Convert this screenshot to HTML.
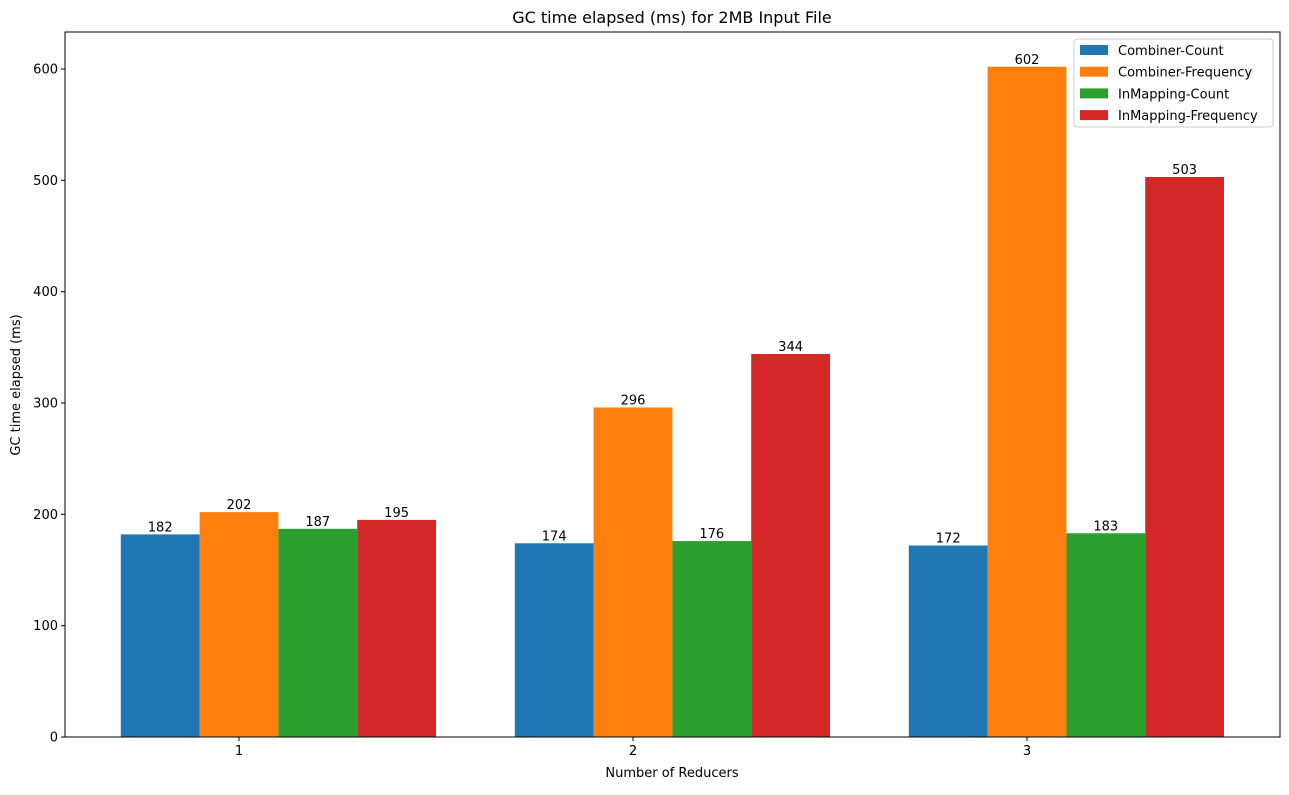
<!DOCTYPE html>
<html><head><meta charset="utf-8">
<style>
body{margin:0;background:#fff;font-family:"Liberation Sans","DejaVu Sans",sans-serif;}
svg text{font-family:"DejaVu Sans","Liberation Sans",sans-serif;}
</style></head>
<body>
<svg id="chart" width="1289" height="790" xmlns="http://www.w3.org/2000/svg">
<rect width="1289" height="790" fill="#fff"/>
<text x="672" y="23" text-anchor="middle" font-size="16">GC time elapsed (ms) for 2MB Input File</text>
<g id="plot"></g>
<text x="672" y="777" text-anchor="middle" font-size="13">Number of Reducers</text>
<text transform="translate(20,385) rotate(-90)" text-anchor="middle" font-size="13">GC time elapsed (ms)</text>
</svg>
<script>
const categories = ["1","2","3"];
const seriesNames = ["Combiner-Count","Combiner-Frequency","InMapping-Count","InMapping-Frequency"];
const combinerCount = [182,174,172];
const combinerFreq = [202,296,602];
const inMappingCount = [187,176,183];
const inMappingFreq = [195,344,503];
const yTicks = [0,100,200,300,400,500,600];

const series = [combinerCount, combinerFreq, inMappingCount, inMappingFreq];
const colors = ["#1f77b4","#ff7f0e","#2ca02c","#d62728"];
const L=65,R=1280,T=32,B=737;
const ns="http://www.w3.org/2000/svg";
const g=document.getElementById('plot');
function y(v){return B - v*(668/600);}
function xTick(i){return 239 + i*394;}
const bw=78.8;
function mk(tag,attrs){const e=document.createElementNS(ns,tag);for(const k in attrs)e.setAttribute(k,attrs[k]);g.appendChild(e);return e;}
series.forEach((s,si)=>{
  s.forEach((v,ci)=>{
    const x0 = xTick(ci) - 1.5*bw + si*bw;
    const r=mk('rect',{x:x0,y:y(v),width:bw,height:B-y(v),fill:colors[si]});
    
    
    const t=mk('text',{x:x0+bw/2,y:y(v)-3,'text-anchor':'middle','font-size':13});
    t.textContent=v;
    
    
  });
});
const frame=mk('rect',{x:L,y:T,width:R-L,height:B-T,fill:'none',stroke:'#000','stroke-width':1});


yTicks.forEach(v=>{
  const ln=mk('line',{x1:L-4,x2:L,y1:y(v),y2:y(v),stroke:'#000'});
  
  
  const t=mk('text',{x:L-7,y:y(v)+4.5,'text-anchor':'end','font-size':13});
  t.textContent=v;
  
  
});
categories.forEach((c,i)=>{
  const ln=mk('line',{x1:xTick(i),x2:xTick(i),y1:B,y2:B+4,stroke:'#000'});
  
  
  const t=mk('text',{x:xTick(i),y:B+18,'text-anchor':'middle','font-size':13});
  t.textContent=c;
  
  
});
const lg=mk('rect',{x:1074,y:39,width:199,height:88,rx:3,fill:'#fff',stroke:'#ccc','fill-opacity':0.8});


seriesNames.forEach((n,i)=>{
  const yy=50+i*21.7;
  const p=mk('rect',{x:1080,y:yy-5,width:28,height:10,fill:colors[i]});
  
  
  const t=mk('text',{x:1118,y:yy+5,'font-size':13});
  t.textContent=n;
  
  
});
</script>
</body></html>
